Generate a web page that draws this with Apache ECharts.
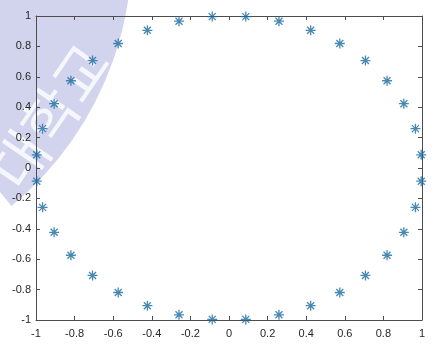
<!DOCTYPE html>
<html>
<head>
<meta charset="utf-8">
<script src="https://cdn.jsdelivr.net/npm/echarts@6/dist/echarts.min.js"></script>
<style>
html,body{margin:0;padding:0;background:#fff;}
#chart{width:444px;height:347px;}
</style>
</head>
<body>
<div id="chart"></div>
<script>
// Point coordinates
var xValues = [0.996, 0.966, 0.906, 0.819, 0.707, 0.574, 0.423, 0.259, 0.087,
  -0.087, -0.259, -0.423, -0.574, -0.707, -0.819, -0.906, -0.966, -0.996,
  -0.996, -0.966, -0.906, -0.819, -0.707, -0.574, -0.423, -0.259, -0.087,
  0.087, 0.259, 0.423, 0.574, 0.707, 0.819, 0.906, 0.966, 0.996];
var yValues = [0.087, 0.259, 0.423, 0.574, 0.707, 0.819, 0.906, 0.966, 0.996,
  0.996, 0.966, 0.906, 0.819, 0.707, 0.574, 0.423, 0.259, 0.087,
  -0.087, -0.259, -0.423, -0.574, -0.707, -0.819, -0.906, -0.966, -0.996,
  -0.996, -0.966, -0.906, -0.819, -0.707, -0.574, -0.423, -0.259, -0.087];
var xTicks = [-1, -0.8, -0.6, -0.4, -0.2, 0, 0.2, 0.4, 0.6, 0.8, 1];
var yTicks = [-1, -0.8, -0.6, -0.4, -0.2, 0, 0.2, 0.4, 0.6, 0.8, 1];
var watermarkText = '대학교';

var points = xValues.map(function (x, i) { return [x, yValues[i]]; });
var axisColor = '#4d4d4d';
var labelStyle = { color: '#262626', fontSize: 11, fontFamily: 'Liberation Sans, Arial, sans-serif' };

function makeAxis(pos, ticks, showLabel, margin) {
  return {
    type: 'value', position: pos,
    min: ticks[0], max: ticks[ticks.length - 1], interval: 0.2,
    axisLine: { show: true, onZero: false, lineStyle: { color: axisColor, width: 1 } },
    axisTick: { show: true, inside: true, length: 4, lineStyle: { color: axisColor } },
    axisLabel: Object.assign({ show: showLabel, margin: margin,
      formatter: function (v) { return String(Math.round(v * 10) / 10); } }, labelStyle),
    splitLine: { show: false },
    z: 5
  };
}

var chart = echarts.init(document.getElementById('chart'), null, { renderer: 'canvas' });
chart.setOption({
  animation: false,
  backgroundColor: '#ffffff',
  grid: { left: 36, right: 22, top: 16, bottom: 27, containLabel: false },
  graphic: [
    {
      type: 'sector', z: -10, silent: true,
      shape: { cx: -200, cy: -50, r: 332, r0: 150, startAngle: -0.2, endAngle: 0.88 },
      style: { fill: '#d2d4ee' }
    },
    {
      type: 'text', z: -9, silent: true,
      x: 50, y: 116, rotation: 0.97,
      style: { text: watermarkText, fill: 'rgba(255,255,255,0.8)', fontSize: 58,
        fontFamily: 'Noto Sans CJK KR', align: 'center', verticalAlign: 'middle' }
    }
  ],
  xAxis: [makeAxis('bottom', xTicks, true, 8), makeAxis('top', xTicks, false, 8)],
  yAxis: [makeAxis('left', yTicks, true, 5), makeAxis('right', yTicks, false, 5)],
  series: [{
    type: 'scatter',
    data: points,
    z: 10,
    symbol: 'path://M0,-1L0,1M-1,0L1,0M-0.7,-0.7L0.7,0.7M-0.7,0.7L0.7,-0.7',
    symbolSize: 10,
    itemStyle: { color: 'rgba(0,0,0,0)', borderColor: '#1a6aa0', borderWidth: 1.3 }
  }]
});
</script>
</body>
</html>
